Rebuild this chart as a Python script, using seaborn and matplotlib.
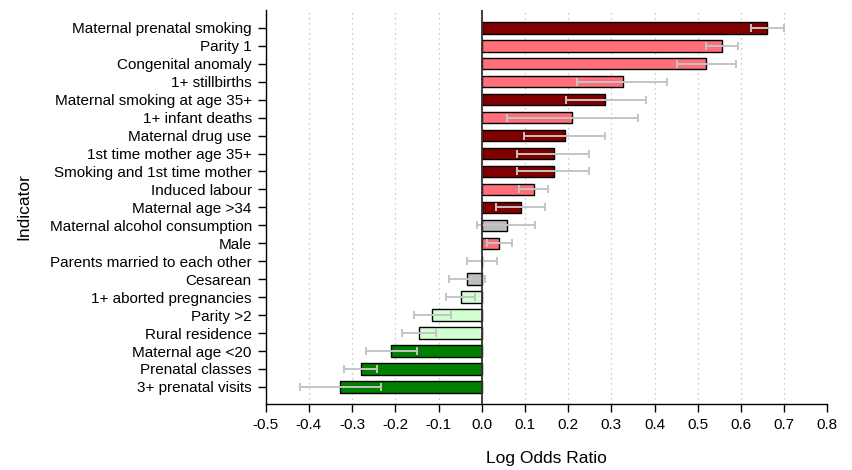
import numpy as np
import pandas as pd
import matplotlib
matplotlib.use("Agg")
import matplotlib.pyplot as plt
import seaborn as sns

# indicators, top to bottom
indicators = [
    "Maternal prenatal smoking", "Parity 1", "Congenital anomaly", "1+ stillbirths",
    "Maternal smoking at age 35+", "1+ infant deaths", "Maternal drug use",
    "1st time mother age 35+", "Smoking and 1st time mother", "Induced labour",
    "Maternal age >34", "Maternal alcohol consumption", "Male",
    "Parents married to each other", "Cesarean", "1+ aborted pregnancies",
    "Parity >2", "Rural residence", "Maternal age <20", "Prenatal classes",
    "3+ prenatal visits",
]
log_or = [0.661, 0.555, 0.520, 0.326, 0.286, 0.210, 0.192, 0.167, 0.167, 0.121,
          0.090, 0.058, 0.041, 0.0, -0.035, -0.049, -0.114, -0.146, -0.209,
          -0.280, -0.328]
ci_low = [0.623, 0.518, 0.451, 0.221, 0.196, 0.059, 0.097, 0.082, 0.082, 0.087,
          0.032, -0.012, 0.011, -0.035, -0.076, -0.082, -0.157, -0.185, -0.268,
          -0.318, -0.421]
ci_high = [0.699, 0.594, 0.589, 0.429, 0.380, 0.361, 0.286, 0.249, 0.249, 0.153,
           0.146, 0.124, 0.069, 0.036, 0.007, -0.015, -0.071, -0.106, -0.149,
           -0.242, -0.234]
group = ["strong+", "weak+", "weak+", "weak+", "strong+", "weak+", "strong+",
         "strong+", "strong+", "weak+", "strong+", "ns", "weak+", "ns", "ns",
         "weak-", "weak-", "weak-", "strong-", "strong-", "strong-"]

colors = {"strong+": "#800000", "weak+": "#FF6F7A", "ns": "#BEBEBE",
          "weak-": "#D2FFD2", "strong-": "#008000"}
xticks = [-0.5, -0.4, -0.3, -0.2, -0.1, 0.0, 0.1, 0.2, 0.3, 0.4, 0.5, 0.6, 0.7, 0.8]

df = pd.DataFrame({"indicator": indicators, "lor": log_or, "group": group,
                   "lo": ci_low, "hi": ci_high})

sns.set_style("white")
plt.rcParams["font.family"] = ["Liberation Sans", "DejaVu Sans"]

fig, ax = plt.subplots(figsize=(8.53, 4.70), dpi=100)
fig.subplots_adjust(left=0.3115, right=0.970, top=0.979, bottom=0.1404)

ax.set_axisbelow(True)
ax.grid(axis="x", color="#BBBBBB", linestyle=(0, (1, 3)), linewidth=0.9)

sns.barplot(data=df, x="lor", y="indicator", hue="group", palette=colors,
            saturation=1, dodge=False, width=0.64, edgecolor="black",
            linewidth=1.0, legend=False, ax=ax, errorbar=None, zorder=2)

ypos = np.arange(len(indicators))
ax.errorbar(df["lor"], ypos,
            xerr=[df["lor"] - df["lo"], df["hi"] - df["lor"]],
            fmt="none", ecolor="#C4C4C4", elinewidth=1.4, capsize=3,
            capthick=1.4, zorder=3)

ax.axvline(0, color="#333333", linewidth=1.3, zorder=4)

ax.set_xlim(-0.5, 0.8)
ax.set_ylim(len(indicators) - 0.05, -1.0)
ax.set_xticks(xticks)
ax.set_xticklabels([f"{v:.1f}" for v in xticks])

for s in ["top", "right"]:
    ax.spines[s].set_visible(False)
for s in ["left", "bottom"]:
    ax.spines[s].set_color("black")
    ax.spines[s].set_linewidth(1.0)

ax.tick_params(axis="both", which="both", direction="out", length=6, width=1,
               color="black", labelsize=11, pad=4, left=True, bottom=True,
               labelcolor="black")

ax.set_xlabel("Log Odds Ratio", fontsize=12.5, labelpad=14, color="black")
ax.set_ylabel("Indicator", fontsize=12.5, labelpad=13, color="black")

fig.savefig("out.png", dpi=100)
